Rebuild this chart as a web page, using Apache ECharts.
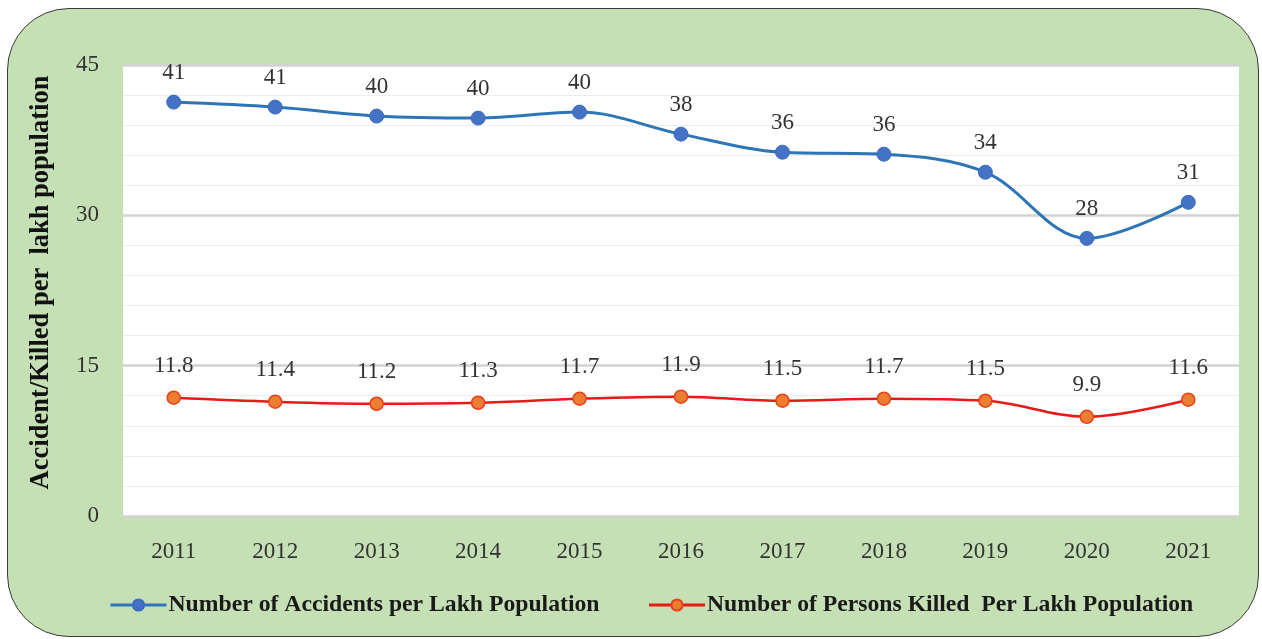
<!DOCTYPE html>
<html>
<head>
<meta charset="utf-8">
<script src="https://cdn.jsdelivr.net/npm/echarts@6/dist/echarts.min.js"></script>
<style>
  html, body { margin: 0; padding: 0; background: #fff; }
  .frame {
    position: absolute; left: 7px; top: 8px; width: 1250px; height: 627px;
    background: #c5e0b4; border: 1.5px solid #3a3a3a; border-radius: 62px;
  }
  .echart { position: absolute; left: 0; top: 0; width: 1262px; height: 639px; }
</style>
</head>
<body>
<div class="frame"></div>
<div class="echart" id="chart"></div>
<script>
const years = ['2011', '2012', '2013', '2014', '2015', '2016', '2017', '2018', '2019', '2020', '2021'];
const accidents = [41.3, 40.8, 39.9, 39.7, 40.3, 38.1, 36.3, 36.1, 34.3, 27.7, 31.3];
const killed = [11.8, 11.4, 11.2, 11.3, 11.7, 11.9, 11.5, 11.7, 11.5, 9.9, 11.6];
const yTicks = { min: 0, max: 45, interval: 15 };

const serif = 'Times New Roman';
const myEchart = echarts.init(document.getElementById('chart'), null, { renderer: 'canvas' });

const options = {
  animation: false,
  grid: {
    left: 123, right: 23, top: 65, bottom: 123,
    show: true, backgroundColor: '#ffffff', borderWidth: 0
  },
  legend: {
    bottom: 17, left: 104,
    itemWidth: 56, itemHeight: 14, itemGap: 48,
    lineStyle: { width: 3 },
    textStyle: { fontFamily: serif, fontWeight: 'bold', fontSize: 23.7, color: '#1a1a1a', padding: [0, 0, 0, -3] },
    data: ['Number of Accidents per Lakh Population', 'Number of Persons Killed  Per Lakh Population']
  },
  xAxis: {
    type: 'category',
    data: years,
    boundaryGap: true,
    axisLine: { show: false },
    axisTick: { show: false },
    axisLabel: { fontFamily: serif, fontSize: 23, color: '#333', margin: 24 }
  },
  yAxis: {
    type: 'value',
    min: yTicks.min, max: yTicks.max, interval: yTicks.interval,
    name: 'Accident/Killed per  lakh population',
    nameLocation: 'middle',
    nameGap: 68,
    nameTextStyle: { fontFamily: serif, fontWeight: 'bold', fontSize: 26.5, color: '#111', padding: [0, 0, 0, 16] },
    axisLine: { show: false },
    axisTick: { show: false },
    axisLabel: { fontFamily: serif, fontSize: 23, color: '#333', margin: 24 },
    splitLine: { lineStyle: { color: '#d2d2d2', width: 2.5 } },
    minorTick: { show: false, splitNumber: 5 },
    minorSplitLine: { show: true, lineStyle: { color: '#ededed', width: 1 } }
  },
  series: [
    {
      name: 'Number of Accidents per Lakh Population',
      type: 'line',
      data: accidents,
      smooth: 0.35,
      symbol: 'circle',
      symbolSize: 14,
      lineStyle: { color: '#2e75b6', width: 3 },
      itemStyle: { color: '#4472c4', borderColor: '#3b6cc0', borderWidth: 1 },
      label: {
        show: true, position: 'top', distance: 10,
        fontFamily: serif, fontSize: 23, color: '#333',
        formatter: p => Math.round(p.value)
      }
    },
    {
      name: 'Number of Persons Killed  Per Lakh Population',
      type: 'line',
      data: killed,
      smooth: 0.35,
      symbol: 'circle',
      symbolSize: 13,
      lineStyle: { color: '#e41b17', width: 2.5 },
      itemStyle: { color: '#ed7d31', borderColor: '#e8401c', borderWidth: 1.5 },
      label: {
        show: true, position: 'top', distance: 13,
        fontFamily: serif, fontSize: 23, color: '#333',
        formatter: p => p.value.toFixed(1)
      }
    }
  ]
};
myEchart.setOption(options);
</script>
</body>
</html>
